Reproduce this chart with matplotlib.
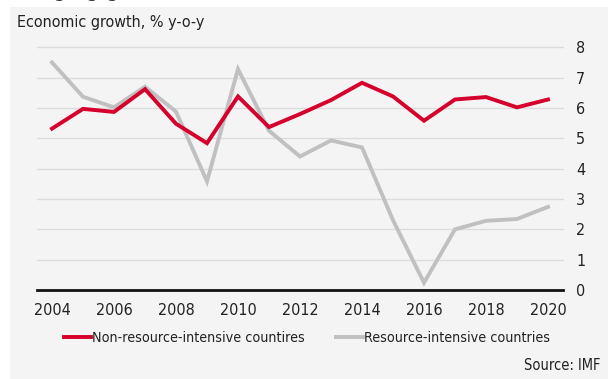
import matplotlib
matplotlib.use("Agg")
import matplotlib.pyplot as plt
from matplotlib.patches import Rectangle

years = list(range(2004, 2021))
non_resource = [5.32, 5.97, 5.87, 6.62, 5.48, 4.84, 6.38, 5.37, 5.80, 6.26, 6.83, 6.38, 5.58, 6.28, 6.36, 6.02, 6.28]
resource = [7.50, 6.37, 6.02, 6.70, 5.88, 3.58, 7.28, 5.25, 4.40, 4.93, 4.70, 2.30, 0.24, 2.00, 2.28, 2.34, 2.74]
yticks = list(range(0, 9))
xticks = list(range(2004, 2021, 2))

plt.rcParams["font.family"] = ["DejaVu Sans"]
plt.rcParams["font.stretch"] = "condensed"

RED = "#d5002b"
GREY = "#c0c0c0"
TXT = "#222222"

fig = plt.figure(figsize=(6.08, 3.79), dpi=100)
fig.patch.set_facecolor("white")
fig.patches.append(Rectangle((10 / 608, 0), 1 - 10 / 608, 1 - 7 / 379,
                             transform=fig.transFigure, facecolor="#f4f4f4",
                             edgecolor="none", zorder=-10))

# headline sits above the panel and is mostly cut off by the canvas edge
fig.text(-0.005, 1 + 4 / 379, "Diverging growth in resource-intensive EM countries",
         fontsize=17, color="#333333", ha="left", va="baseline")

ax = fig.add_axes([37 / 608, 1 - 290 / 379, (563 - 37) / 608, (290 - 47.3) / 379])
ax.set_facecolor("none")
ax.set_xlim(2003.516, 2020.484)
ax.set_ylim(0, 8)

for v in yticks[1:]:
    ax.axhline(v, color="#dcdcdc", lw=1.0, zorder=1, clip_on=False)
ax.axhline(0, color="#111111", lw=2.0, zorder=3, clip_on=False)

l1, = ax.plot(years, non_resource, color=RED, lw=2.8, zorder=5,
              solid_joinstyle="miter", label="Non-resource-intensive countires")
l2, = ax.plot(years, resource, color=GREY, lw=2.8, zorder=4,
              solid_joinstyle="miter", label="Resource-intensive countries")

for s in ax.spines.values():
    s.set_visible(False)
ax.yaxis.tick_right()
ax.set_yticks(yticks)
ax.set_xticks(xticks)
ax.tick_params(axis="both", length=0, labelsize=11.5, colors=TXT)
ax.tick_params(axis="y", pad=9.5)
ax.tick_params(axis="x", pad=9.5)

fig.text(17 / 608, 1 - 22 / 379, "Economic growth, % y-o-y", fontsize=11.5,
         color=TXT, ha="left", va="center")

fig.legend(handles=[l1, l2], loc="center left", bbox_to_anchor=(64 / 608, 1 - 338 / 379),
           ncol=2, frameon=False, fontsize=10.3, handlelength=1.9,
           handletextpad=0.05, columnspacing=2.2, borderpad=0, borderaxespad=0,
           labelcolor=TXT)

fig.text(601 / 608, 1 - 365 / 379, "Source: IMF", fontsize=10.5, color=TXT,
         ha="right", va="center")

fig.savefig("out.png", dpi=100, facecolor=fig.get_facecolor())
